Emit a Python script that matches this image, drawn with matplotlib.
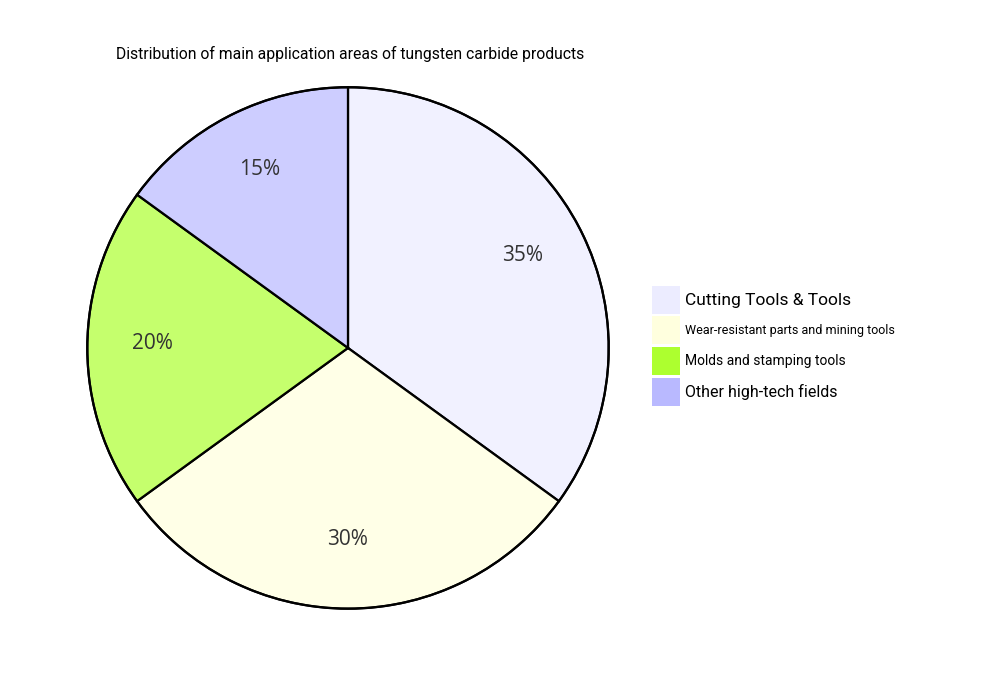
import matplotlib
matplotlib.use('Agg')
import matplotlib.pyplot as plt
import matplotlib.transforms as mtransforms
from matplotlib.colors import to_rgba
from matplotlib.patches import Rectangle

TITLE = 'Distribution of main application areas of tungsten carbide products'
categories = ['Cutting Tools & Tools', 'Wear-resistant parts and mining tools',
              'Molds and stamping tools', 'Other high-tech fields']
shares = [35, 30, 20, 15]
colors = ['#ECECFF', '#FFFFDE', '#ADFF2F', '#B9B9FF']
legend_sizes = [12.5, 9, 10, 11.5]   # the legend texts are shrunk to fit, each differently

fig = plt.figure(figsize=(10, 6.98), dpi=100)
plt.rcParams['font.family'] = ['Roboto', 'DejaVu Sans']

# slices are drawn at 70% opacity, the outlines stay solid black
slice_colors = [to_rgba(c, 0.7) for c in colors]

# pie centre ~ (348, 350) px from bottom-left, radius ~262 px
ax = fig.add_axes([0.086, 0.126, 0.524, 0.751])
wedges, texts, autotexts = ax.pie(
    shares, colors=slice_colors, startangle=90, counterclock=False,
    autopct='%1.0f%%', pctdistance=0.75, radius=1.0,
    wedgeprops=dict(edgecolor='black', linewidth=1.6),
    textprops=dict(fontsize=15, color='#333333', family=['Open Sans', 'DejaVu Sans']))
for t in autotexts:
    t.set_transform(mtransforms.offset_copy(t.get_transform(), fig=fig, y=4, units='dots'))
circle = plt.Circle((0, 0), 1.0, fill=False, edgecolor='black', linewidth=1.6)
ax.add_artist(circle)
ax.set_xlim(-1.005, 1.005)
ax.set_ylim(-1.005, 1.005)
ax.set_aspect('equal')
ax.axis('off')

fig.text(0.116, 0.922, TITLE, fontsize=11.3, color='black', va='center', ha='left')

# legend, drawn by hand so each row can keep its own text size
W, H = 1000, 698
x0, size = 652, 28
y_top = 286
for i, (lab, col, fs) in enumerate(zip(categories, colors, legend_sizes)):
    y = y_top + i * 30.5
    fig.add_artist(Rectangle((x0 / W, 1 - (y + size) / H), size / W, size / H,
                             transform=fig.transFigure, facecolor=col, edgecolor='none'))
    fig.text((x0 + size + 5) / W, 1 - (y + size / 2) / H, lab, fontsize=fs,
             color='black', va='center', ha='left')

fig.savefig('out.png', dpi=100, facecolor='white')
